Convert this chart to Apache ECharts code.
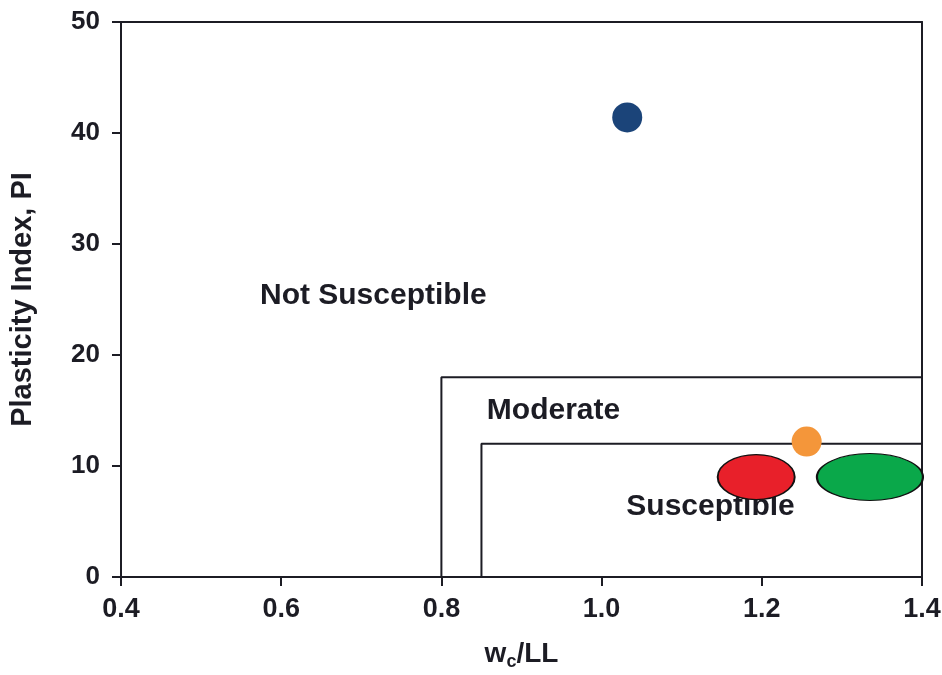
<!DOCTYPE html>
<html>
<head>
<meta charset="utf-8">
<script src="https://cdn.jsdelivr.net/npm/echarts@6/dist/echarts.min.js"></script>
<style>
  html, body { margin: 0; padding: 0; background: #fff; }
  #chart { width: 942px; height: 675px; }
</style>
</head>
<body>
<div id="chart"></div>
<script>
// Axis ranges and ticks
const xTicks = [0.4, 0.6, 0.8, 1.0, 1.2, 1.4];
const yTicks = [0, 10, 20, 30, 40, 50];

// Zone boundaries (wc/LL, PI)
const moderateZone = [[0.8, 0], [0.8, 18], [1.4, 18], [1.4, 0]];
const susceptibleZone = [[0.85, 0], [0.85, 12], [1.4, 12]];

// Zone labels placed at data coordinates
const zoneLabels = [
  [0.715, 25.3, 'Not Susceptible'],
  [0.94, 15.0, 'Moderate'],
  [1.136, 6.3, 'Susceptible']
];

// Measured samples
const sampleBlue = [[1.032, 41.4]];
const sampleOrange = [[1.256, 12.2]];
const sampleRed = [[1.193, 9.0]];
const sampleGreen = [[1.335, 9.0]];

const ink = '#1c1c24';
const fontFamily = '"Liberation Sans", Arial, sans-serif';
const ellipsePath = 'path://M0,50 A50,50 0 1,1 100,50 A50,50 0 1,1 0,50 Z';

const chart = echarts.init(document.getElementById('chart'), null, { renderer: 'canvas' });

chart.setOption({
  animation: false,
  backgroundColor: '#fff',
  grid: { left: 121, right: 20, top: 22, bottom: 98, containLabel: false, outerBoundsMode: 'none' },
  xAxis: [
    {
      type: 'value',
      min: xTicks[0],
      max: xTicks[xTicks.length - 1],
      interval: 0.2,
      splitLine: { show: false },
      axisLine: { onZero: false, lineStyle: { color: ink, width: 2 } },
      axisTick: { inside: false, length: 9, lineStyle: { color: ink, width: 2 } },
      axisLabel: {
        margin: 19,
        color: ink,
        fontSize: 27,
        fontWeight: 'bold',
        fontFamily: fontFamily,
        formatter: v => v.toFixed(1)
      },
      name: 'w{sub|c}/LL',
      nameLocation: 'middle',
      nameGap: 60,
      nameTextStyle: {
        color: ink,
        fontSize: 28,
        fontWeight: 'bold',
        fontFamily: fontFamily,
        rich: {
          sub: { fontSize: 18, fontWeight: 'bold', fontFamily: fontFamily, color: ink, verticalAlign: 'bottom', padding: [16, 0, 0, 0] }
        }
      }
    },
    {
      type: 'value',
      position: 'top',
      min: xTicks[0],
      max: xTicks[xTicks.length - 1],
      axisLine: { show: true, onZero: false, lineStyle: { color: ink, width: 2 } },
      axisTick: { show: false },
      axisLabel: { show: false },
      splitLine: { show: false }
    }
  ],
  yAxis: [
    {
      type: 'value',
      min: yTicks[0],
      max: yTicks[yTicks.length - 1],
      interval: 10,
      splitLine: { show: false },
      axisLine: { show: true, onZero: false, lineStyle: { color: ink, width: 2 } },
      axisTick: { show: true, inside: false, length: 9, lineStyle: { color: ink, width: 2 } },
      axisLabel: {
        margin: 21,
        color: ink,
        fontSize: 26,
        fontWeight: 'bold',
        fontFamily: fontFamily
      },
      name: 'Plasticity Index, PI',
      nameLocation: 'middle',
      nameGap: 84,
      nameRotate: 90,
      nameTextStyle: {
        color: ink,
        fontSize: 29,
        fontWeight: 'bold',
        fontFamily: fontFamily
      }
    },
    {
      type: 'value',
      position: 'right',
      min: yTicks[0],
      max: yTicks[yTicks.length - 1],
      axisLine: { show: true, onZero: false, lineStyle: { color: ink, width: 2 } },
      axisTick: { show: false },
      axisLabel: { show: false },
      splitLine: { show: false }
    }
  ],
  series: [
    {
      name: 'Moderate zone',
      type: 'line',
      data: moderateZone,
      symbol: 'none',
      clip: false,
      lineStyle: { color: ink, width: 2 },
      z: 2
    },
    {
      name: 'Susceptible zone',
      type: 'line',
      data: susceptibleZone,
      symbol: 'none',
      clip: false,
      lineStyle: { color: ink, width: 2 },
      z: 2
    },
    {
      name: 'Zone labels',
      type: 'scatter',
      data: zoneLabels,
      symbolSize: 0,
      clip: false,
      itemStyle: { opacity: 1 },
      label: {
        show: true,
        position: 'inside',
        formatter: p => p.value[2],
        color: ink,
        opacity: 1,
        fontSize: 30,
        fontWeight: 'bold',
        fontFamily: fontFamily
      },
      z: 3
    },
    {
      name: 'Sample A',
      type: 'scatter',
      data: sampleBlue,
      symbol: 'circle',
      symbolSize: 30,
      itemStyle: { color: '#1b4479', opacity: 1 },
      z: 5
    },
    {
      name: 'Sample B',
      type: 'scatter',
      data: sampleOrange,
      symbol: 'circle',
      symbolSize: 30,
      itemStyle: { color: '#f4963a', opacity: 1 },
      z: 5
    },
    {
      name: 'Sample C',
      type: 'scatter',
      data: sampleRed,
      symbol: ellipsePath,
      symbolSize: [77, 45],
      itemStyle: { color: '#e8202a', borderColor: '#111', borderWidth: 1.5, opacity: 1 },
      z: 5
    },
    {
      name: 'Sample D',
      type: 'scatter',
      data: sampleGreen,
      symbol: ellipsePath,
      symbolSize: [106, 47],
      clip: false,
      itemStyle: { color: '#0aa84a', borderColor: '#111', borderWidth: 1.5, opacity: 1 },
      z: 5
    }
  ]
});
</script>
</body>
</html>
